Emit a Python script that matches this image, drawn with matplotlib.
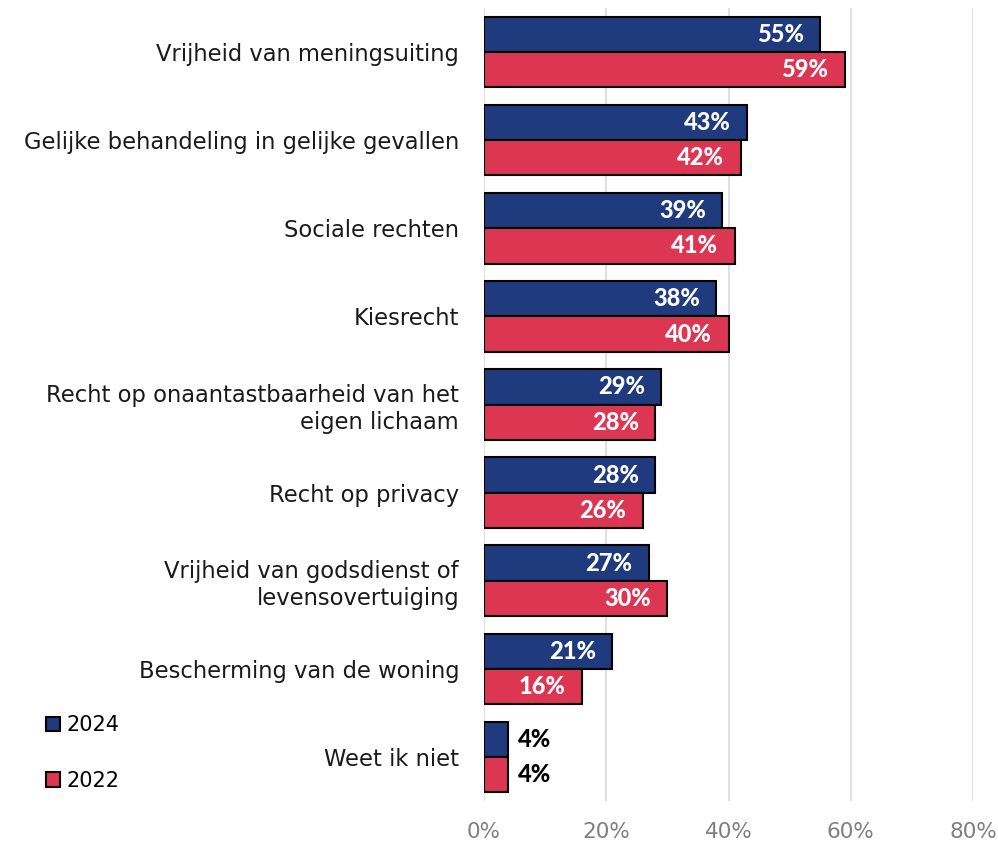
import numpy as np
import matplotlib
matplotlib.use('Agg')
import matplotlib.pyplot as plt

plt.rcParams['font.family'] = ['DejaVu Sans']

categories = ['Vrijheid van meningsuiting',
              'Gelijke behandeling in gelijke gevallen',
              'Sociale rechten',
              'Kiesrecht',
              'Recht op onaantastbaarheid van het\neigen lichaam',
              'Recht op privacy',
              'Vrijheid van godsdienst of\nlevensovertuiging',
              'Bescherming van de woning',
              'Weet ik niet']
vals_2024 = [55, 43, 39, 38, 29, 28, 27, 21, 4]
vals_2022 = [59, 42, 41, 40, 28, 26, 30, 16, 4]
xticks = [0, 20, 40, 60, 80]

navy = '#1F3A7D'
red = '#DD3653'

fig = plt.figure(figsize=(9.98, 8.43), dpi=100)
ax = fig.add_axes([0.485, 0.0498, 0.49, 0.9407])

y = np.arange(len(categories))
h = 0.4
b1 = ax.barh(y - h / 2, vals_2024, height=h, color=navy, edgecolor='black', linewidth=1.5, label='2024', zorder=3)
b2 = ax.barh(y + h / 2, vals_2022, height=h, color=red, edgecolor='black', linewidth=1.5, label='2022', zorder=3)

# data labels: white inside the bar, black outside for the small ones
for bars, vals in [(b1, vals_2024), (b2, vals_2022)]:
    for bar, v in zip(bars, vals):
        yc = bar.get_y() + bar.get_height() / 2
        if v < 10:
            ax.text(v + 1.6, yc, f'{v}%', va='center', ha='left', color='black',
                    fontsize=17, fontweight='black', family=['Lato', 'DejaVu Sans'], zorder=4)
        else:
            ax.text(v - 2.7, yc, f'{v}%', va='center', ha='right', color='white',
                    fontsize=17, fontweight='black', family=['Lato', 'DejaVu Sans'], zorder=4)

ax.set_ylim(len(categories) - 0.5, -0.5)
ax.set_xlim(0, 80)
ax.set_yticks(y)
ax.set_yticklabels(categories, fontsize=16.3, color='#1a1a1a')
ax.set_xticks(xticks)
ax.set_xticklabels([f'{t}%' for t in xticks], fontsize=15.5, color='#7f7f7f')
ax.tick_params(length=0)
ax.tick_params(axis='y', pad=18)
ax.tick_params(axis='x', pad=15)
ax.grid(axis='x', color='#d9d9d9', linewidth=1.2, zorder=0)
for s in ax.spines.values():
    s.set_visible(False)

leg = fig.legend(handles=[b1, b2], labels=['2024', '2022'], loc='lower left',
                 bbox_to_anchor=(0.027, 0.04), frameon=False, fontsize=15,
                 handlelength=0.7, handleheight=0.7, handletextpad=0.3,
                 labelspacing=1.7)

fig.savefig('out.png', dpi=100)
